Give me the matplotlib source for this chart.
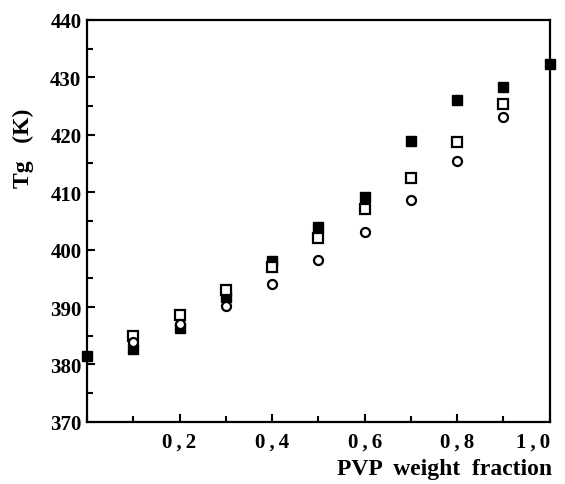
import numpy as np
import matplotlib.pyplot as plt
from matplotlib.ticker import MultipleLocator, FixedLocator

plt.rcParams['font.family'] = ['Liberation Serif', 'DejaVu Serif']
plt.rcParams['font.weight'] = 'bold'

# PVP weight fraction
w_filled = [0.0, 0.1, 0.2, 0.3, 0.4, 0.5, 0.6, 0.7, 0.8, 0.9, 1.0]
tg_filled = [381.5, 382.7, 386.3, 391.8, 398.0, 404.0, 409.2, 418.9, 426.0, 428.3, 432.3]

w_open = [0.1, 0.2, 0.3, 0.4, 0.5, 0.6, 0.7, 0.8, 0.9]
tg_open = [385.0, 388.7, 393.0, 397.0, 402.0, 407.0, 412.5, 418.8, 425.3]

w_circle = [0.1, 0.2, 0.3, 0.4, 0.5, 0.6, 0.7, 0.8, 0.9]
tg_circle = [384.0, 387.0, 390.2, 394.0, 398.2, 403.0, 408.6, 415.4, 423.0]

xtick_vals = [0.2, 0.4, 0.6, 0.8, 1.0]
xtick_labels = ['0\u2009,\u20092', '0\u2009,\u20094', '0\u2009,\u20096', '0\u2009,\u20098', '1\u2009,\u20090']

fig = plt.figure(figsize=(5.65, 4.85), dpi=100)
ax = fig.add_axes([0.154, 0.128, 0.819, 0.829])

ax.plot(w_filled, tg_filled, 's', mfc='black', mec='black', ms=7.5, clip_on=False)
ax.plot(w_open, tg_open, 's', mfc='white', mec='black', mew=1.6, ms=7.5, clip_on=False)
ax.plot(w_circle, tg_circle, 'o', mfc='white', mec='black', mew=1.6, ms=6.5, clip_on=False)

ax.set_xlim(0, 1.0)
ax.set_ylim(370, 440)
ax.xaxis.set_major_locator(FixedLocator(xtick_vals))
ax.set_xticklabels(xtick_labels)
ax.xaxis.set_minor_locator(MultipleLocator(0.1))
ax.yaxis.set_major_locator(MultipleLocator(10))
ax.yaxis.set_minor_locator(MultipleLocator(5))
ax.tick_params(which='both', direction='in', labelsize=15, width=1.5)
ax.tick_params(which='major', length=6, pad=7)
ax.tick_params(which='minor', length=4)
ax.tick_params(axis='y', pad=4)
for lab in ax.get_xticklabels() + ax.get_yticklabels():
    lab.set_fontweight('bold')
ax.get_xticklabels()[-1].set_horizontalalignment('right')
for s in ax.spines.values():
    s.set_linewidth(1.6)

fig.text(0.042, 0.695, 'Tg   (K)', rotation=90, ha='center', va='center',
         fontsize=17, fontweight='bold')
fig.text(0.977, 0.032, 'PVP  weight  fraction', ha='right', va='center',
         fontsize=17, fontweight='bold')

fig.savefig('out.png', dpi=100)
